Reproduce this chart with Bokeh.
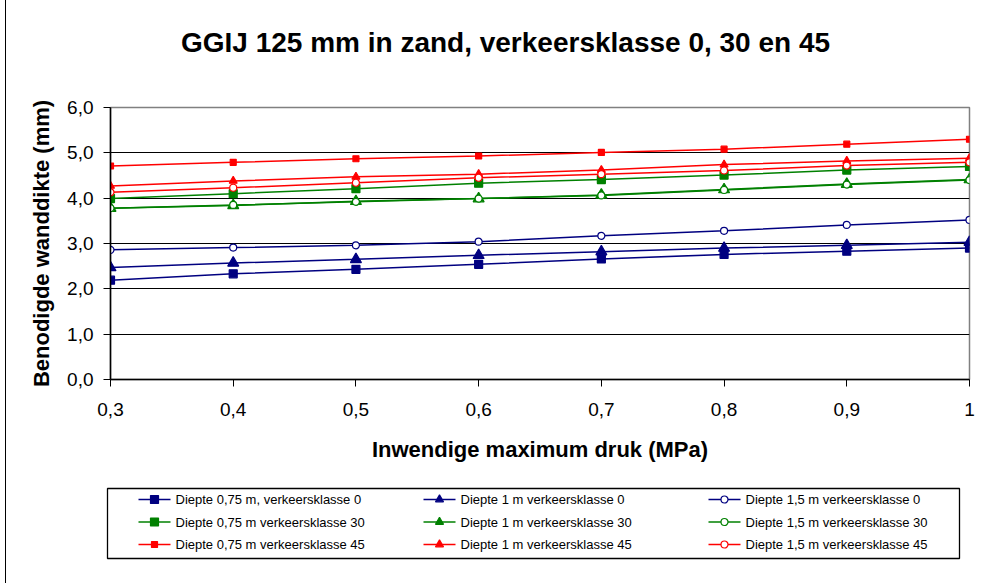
from bokeh.plotting import figure
from bokeh.layouts import column
from bokeh.models import Range1d, FixedTicker
from bokeh.core.properties import value
from bokeh.embed import file_html
from bokeh.resources import INLINE

FONT = "Liberation Sans"

# Internal maximum pressure (MPa)
pressure = [0.3, 0.4, 0.5, 0.6, 0.7, 0.8, 0.9, 1.0]
x_tick_labels = ["0,3", "0,4", "0,5", "0,6", "0,7", "0,8", "0,9", "1"]
y_ticks = [0, 1, 2, 3, 4, 5, 6]
y_tick_labels = ["0,0", "1,0", "2,0", "3,0", "4,0", "5,0", "6,0"]

# Required wall thickness (mm) per depth and traffic class
d075_k0 = [2.19, 2.33, 2.43, 2.54, 2.66, 2.76, 2.83, 2.90]
d1_k0 = [2.47, 2.57, 2.65, 2.74, 2.82, 2.90, 2.96, 3.03]
d15_k0 = [2.86, 2.91, 2.96, 3.04, 3.17, 3.28, 3.41, 3.52]
d075_k30 = [3.99, 4.10, 4.21, 4.33, 4.41, 4.51, 4.62, 4.70]
d1_k30 = [3.78, 3.84, 3.93, 3.99, 4.07, 4.19, 4.31, 4.41]
d15_k30 = [3.78, 3.85, 3.92, 3.99, 4.06, 4.18, 4.30, 4.40]
d075_k45 = [4.71, 4.79, 4.87, 4.93, 5.01, 5.08, 5.19, 5.30]
d1_k45 = [4.27, 4.38, 4.47, 4.53, 4.62, 4.74, 4.82, 4.88]
d15_k45 = [4.13, 4.23, 4.34, 4.45, 4.53, 4.61, 4.72, 4.79]

TITLE = "GGIJ 125 mm in zand, verkeersklasse 0, 30 en 45"
NAVY, GREEN, RED = "#000080", "#008000", "#FF0000"

# (label, values, colour, marker, size, filled) in drawing order
series = [
    ("Diepte 0,75 m, verkeersklasse 0", d075_k0, NAVY, "square", 8, True),
    ("Diepte 1 m verkeersklasse 0", d1_k0, NAVY, "triangle", 11, True),
    ("Diepte 1,5 m verkeersklasse 0", d15_k0, NAVY, "circle", 7, False),
    ("Diepte 0,75 m verkeersklasse 30", d075_k30, GREEN, "square", 8, True),
    ("Diepte 1 m verkeersklasse 30", d1_k30, GREEN, "triangle", 11, True),
    ("Diepte 1,5 m verkeersklasse 30", d15_k30, GREEN, "circle", 7, False),
    ("Diepte 0,75 m verkeersklasse 45", d075_k45, RED, "square", 6, True),
    ("Diepte 1 m verkeersklasse 45", d1_k45, RED, "triangle", 8, True),
    ("Diepte 1,5 m verkeersklasse 45", d15_k45, RED, "circle", 7, False),
]

W = 997
HEAD_H = 80
MAIN_H = 390
LEG_H = 583 - HEAD_H - MAIN_H


def pixel_panel(height):
    """A bare figure whose data units are pixels (y pointing down)."""
    f = figure(width=W, height=height, output_backend="svg",
               toolbar_location=None,
               x_range=Range1d(0, W), y_range=Range1d(height, 0),
               x_axis_type=None, y_axis_type=None,
               min_border_left=0, min_border_right=0,
               min_border_top=0, min_border_bottom=0)
    f.frame_align = False
    f.grid.visible = False
    f.outline_line_color = None
    f.background_fill_alpha = 0
    f.border_fill_alpha = 0
    return f


# ---- title ----
head = pixel_panel(HEAD_H)
head.text([505], [42], text=[TITLE], text_font=value(FONT),
          text_font_size="28px", text_font_style="bold", text_color="black",
          text_align="center", text_baseline="middle")

# ---- main chart ----
p = figure(width=W, height=MAIN_H, output_backend="svg", toolbar_location=None,
           x_range=Range1d(0.3, 1.0), y_range=Range1d(0, 6),
           min_border_left=110, min_border_right=28,
           min_border_top=27, min_border_bottom=91)
p.frame_align = False
p.background_fill_color = "white"
p.border_fill_alpha = 0
p.outline_line_color = "#808080"
p.outline_line_width = 1.5

p.xgrid.visible = False
p.ygrid.grid_line_color = "black"
p.ygrid.grid_line_width = 1

p.xaxis.ticker = FixedTicker(ticks=pressure)
p.xaxis.major_label_overrides = {v: s for v, s in zip(pressure, x_tick_labels)}
p.yaxis.ticker = FixedTicker(ticks=y_ticks)
p.yaxis.major_label_overrides = {v: s for v, s in zip(y_ticks, y_tick_labels)}

for ax in (p.xaxis[0], p.yaxis[0]):
    ax.axis_line_color = "black"
    ax.axis_line_width = 1.5
    ax.major_tick_line_color = "black"
    ax.major_tick_in = 0
    ax.major_tick_out = 7
    ax.minor_tick_line_color = None
    ax.major_label_text_font = FONT
    ax.major_label_text_font_size = "19px"
    ax.major_label_text_color = "black"
    ax.axis_label_text_font = FONT
    ax.axis_label_text_font_size = "22px"
    ax.axis_label_text_font_style = "bold"
    ax.axis_label_text_color = "black"

p.xaxis.axis_label = "Inwendige maximum druk (MPa)"
p.yaxis.axis_label = "Benodigde wanddikte (mm)"
p.xaxis.major_label_standoff = 16
p.xaxis.axis_label_standoff = 18
p.yaxis.major_label_standoff = 10
p.yaxis.axis_label_standoff = 10

for label, vals, color, marker, size, filled in series:
    p.line(pressure, vals, line_color=color, line_width=1.5)
    p.scatter(pressure, vals, marker=marker, size=size,
              line_color=color, line_width=1.2,
              fill_color=color if filled else "white")

# ---- legend ----
q = pixel_panel(LEG_H)
box_left, box_right, box_top, box_bottom = 107, 959, 18, 88
q.quad(left=[box_left], right=[box_right], top=[box_top], bottom=[box_bottom],
       fill_color="white", line_color="black", line_width=1.3)

col_x0, col_pitch = 138, 285
row_y0, row_pitch = 29, 22.5
sample_w, text_gap = 32, 5

# Legend entries: columns are depths, rows are traffic classes
for i, (label, vals, color, marker, size, filled) in enumerate(series):
    col, row = i % 3, i // 3
    x0 = col_x0 + col * col_pitch
    y = row_y0 + row * row_pitch
    q.line([x0, x0 + sample_w], [y, y], line_color=color, line_width=1.5)
    q.scatter([x0 + sample_w / 2], [y], marker=marker,
              size=min(size, 8), line_color=color, line_width=1.2,
              fill_color=color if filled else "white")
    q.text([x0 + sample_w + text_gap], [y], text=[label],
           text_font=value(FONT), text_font_size="13px",
           text_color="black", text_baseline="middle", text_align="left")

# white page with the chart area's thin left border line
layout = column(head, p, q, spacing=0, styles={
    "background": "linear-gradient(to right, white 5px, black 5px, "
                  "black 6px, white 6px)"})
open("out.html", "w").write(file_html(layout, INLINE))
